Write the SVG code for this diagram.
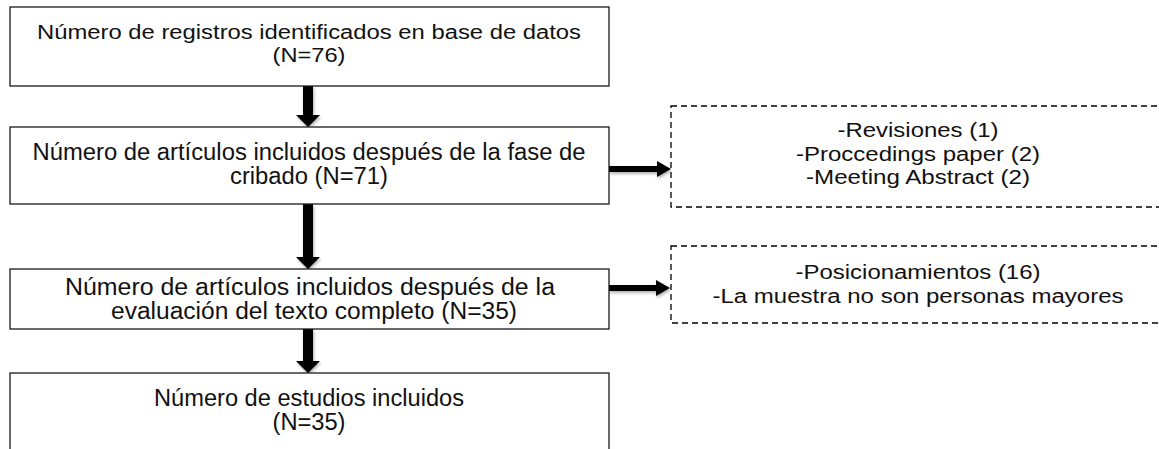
<svg xmlns="http://www.w3.org/2000/svg" width="1159" height="449" viewBox="0 0 1159 449">
<defs>
<style>
.box{fill:#fff;stroke:#1a1a1a;stroke-width:1.3}
.dbox{fill:#fff;stroke:#000;stroke-width:1.3;stroke-dasharray:6 4}
.t{font-family:"Liberation Sans",Arial,sans-serif;fill:#111;text-anchor:middle}
.a{font-size:20px}
.n{font-size:23px}
.arr{fill:#000;filter:url(#sh)}
</style>
<filter id="sh" x="-50%" y="-50%" width="200%" height="200%">
<feDropShadow dx="1" dy="2" stdDeviation="1.5" flood-color="#000" flood-opacity="0.3"/>
</filter>
</defs>
<g id="connectors">
<path class="arr" d="M303,86 H313 V115 H320 L308,127 L296,115 H303 Z"/>
<path class="arr" d="M303,204 H313 V257 H320 L308,269 L296,257 H303 Z"/>
<path class="arr" d="M303,329 H313 V361 H320 L308,373 L296,361 H303 Z"/>
<path class="arr" d="M609,166 H657 V161 L671,169 L657,177 V172 H609 Z"/>
<path class="arr" d="M609,285 H656 V280 L670,288 L656,296 V291 H609 Z"/>
</g>
<g id="n1">
<rect class="box" x="10" y="7" width="599" height="79"/>
<text class="t a" x="309" y="39" textLength="544" lengthAdjust="spacingAndGlyphs">Número de registros identificados en base de datos</text>
<text class="t a" x="309" y="62" textLength="73" lengthAdjust="spacingAndGlyphs">(N=76)</text>
</g>
<g id="n2">
<rect class="box" x="10" y="127" width="599" height="77"/>
<text class="t n" x="309" y="160" textLength="553" lengthAdjust="spacingAndGlyphs">Número de artículos incluidos después de la fase de</text>
<text class="t n" x="309" y="184" textLength="158" lengthAdjust="spacingAndGlyphs">cribado (N=71)</text>
</g>
<g id="n3">
<rect class="box" x="10" y="269" width="599" height="60"/>
<text class="t n" x="310" y="295" textLength="490" lengthAdjust="spacingAndGlyphs">Número de artículos incluidos después de la</text>
<text class="t n" x="314" y="319" textLength="406" lengthAdjust="spacingAndGlyphs">evaluación del texto completo (N=35)</text>
</g>
<g id="n4">
<rect class="box" x="10" y="373" width="599" height="90"/>
<text class="t n" x="309" y="406" textLength="310" lengthAdjust="spacingAndGlyphs">Número de estudios incluidos</text>
<text class="t n" x="309" y="430" textLength="73" lengthAdjust="spacingAndGlyphs">(N=35)</text>
</g>
<g id="n5">
<rect class="dbox" x="671" y="106" width="500" height="101"/>
<text class="t a" x="918" y="137" textLength="161" lengthAdjust="spacingAndGlyphs">-Revisiones (1)</text>
<text class="t a" x="918" y="161" textLength="244" lengthAdjust="spacingAndGlyphs">-Proccedings paper (2)</text>
<text class="t a" x="918" y="184" textLength="224" lengthAdjust="spacingAndGlyphs">-Meeting Abstract (2)</text>
</g>
<g id="n6">
<rect class="dbox" x="671" y="246" width="500" height="77"/>
<text class="t a" x="918" y="279" textLength="245" lengthAdjust="spacingAndGlyphs">-Posicionamientos (16)</text>
<text class="t a" x="918" y="303" textLength="411" lengthAdjust="spacingAndGlyphs">-La muestra no son personas mayores</text>
</g>
</svg>
